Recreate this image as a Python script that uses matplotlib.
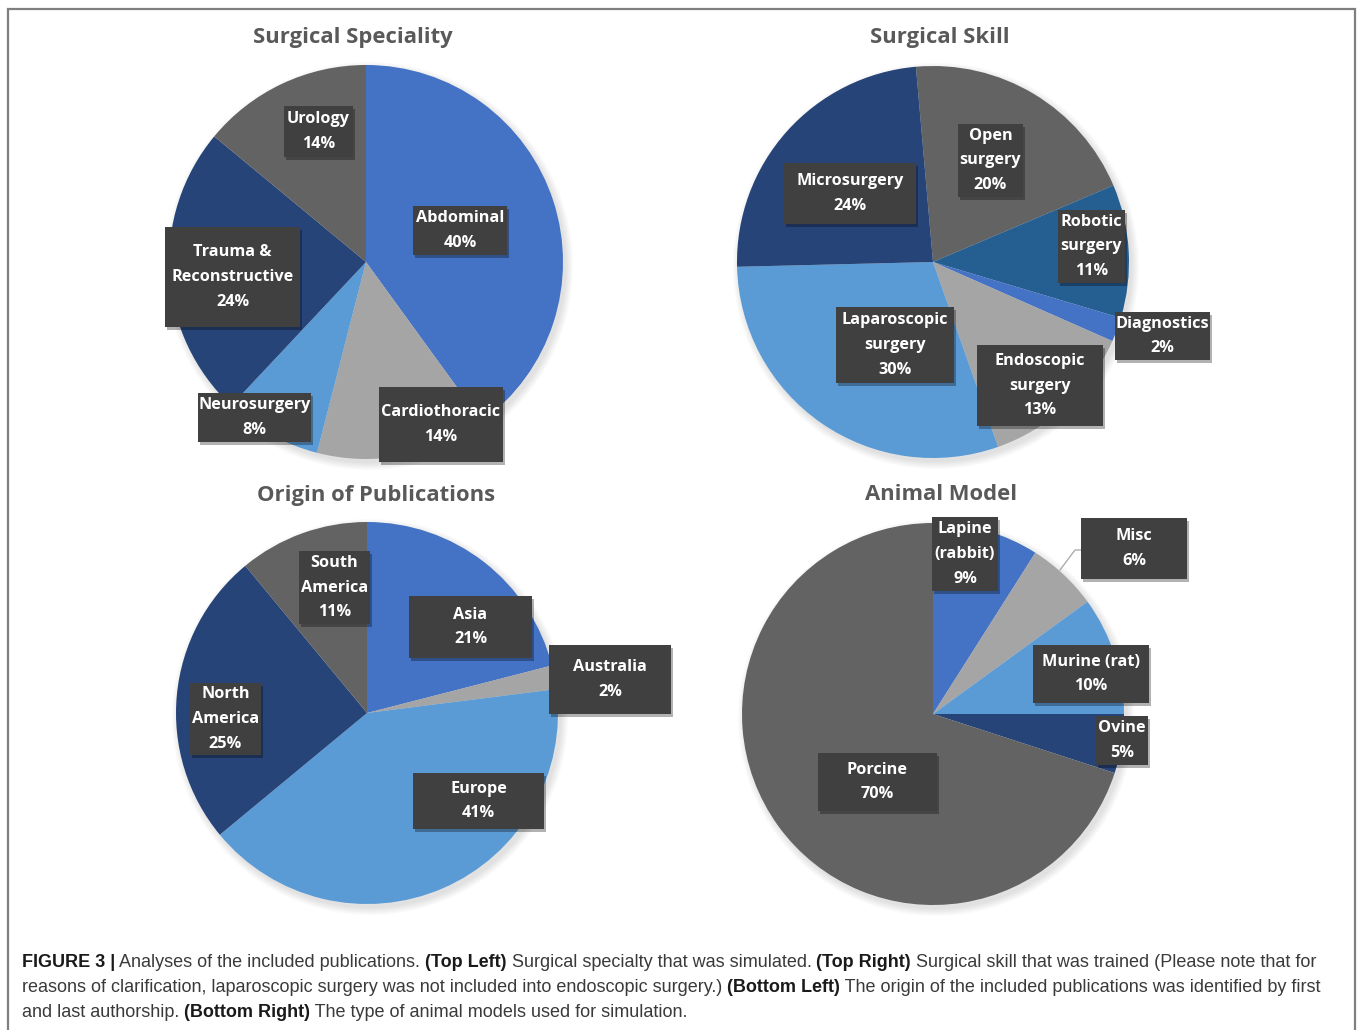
import matplotlib.pyplot as plt
from matplotlib.patches import Rectangle, Circle

# data
speciality_labels = ['Abdominal', 'Cardiothoracic', 'Neurosurgery', 'Trauma &\nReconstructive', 'Urology']
speciality_values = [40, 14, 8, 24, 14]

skill_labels = ['Open\nsurgery', 'Robotic\nsurgery', 'Diagnostics', 'Endoscopic\nsurgery',
                'Laparoscopic\nsurgery', 'Microsurgery']
skill_values = [20, 11, 2, 13, 30, 24]

origin_labels = ['Asia', 'Australia', 'Europe', 'North\nAmerica', 'South\nAmerica']
origin_values = [21, 2, 41, 25, 11]

animal_labels = ['Lapine\n(rabbit)', 'Misc', 'Murine (rat)', 'Ovine', 'Porcine']
animal_values = [9, 6, 10, 5, 70]

# colours
BLUE, GREY, LBLUE, NAVY, DGREY, MBLUE = '#4472C4', '#A5A5A5', '#5B9BD5', '#264478', '#636363', '#255E91'

W, H = 1357, 1030
fig = plt.figure(figsize=(W / 100, H / 100), dpi=100)
ax = fig.add_axes([0, 0, 1, 1])

FONT = 'Open Sans'


def Y(y):
    return H - y


# label boxes in pixel coords (x0, y0, x1, y1), top-down
panels = [
    dict(title='Surgical Speciality', tpos=(353, 38), center=(366, 262), r=197, start=90,
         labels=speciality_labels, values=speciality_values,
         colors=[BLUE, GREY, LBLUE, NAVY, DGREY],
         boxes=[(413, 206, 507, 255), (379, 387, 503, 462), (198, 393, 311, 442),
                (165, 227, 300, 327), (284, 106, 353, 157)]),
    dict(title='Surgical Skill', tpos=(940, 37), center=(933, 262), r=196, start=95,
         labels=skill_labels, values=skill_values,
         colors=[DGREY, MBLUE, BLUE, GREY, LBLUE, NAVY],
         boxes=[(958, 124, 1023, 197), (1058, 210, 1125, 283), (1115, 312, 1210, 360),
                (977, 345, 1103, 426), (836, 307, 954, 383), (784, 163, 916, 224)]),
    dict(title='Origin of Publications', tpos=(376, 495), center=(367, 713), r=191, start=90,
         labels=origin_labels, values=origin_values,
         colors=[BLUE, GREY, LBLUE, NAVY, DGREY],
         boxes=[(409, 596, 532, 658), (549, 645, 671, 714), (413, 773, 544, 829),
                (190, 683, 261, 755), (299, 551, 370, 624)]),
    dict(title='Animal Model', tpos=(941, 495), center=(933, 714), r=191, start=90,
         labels=animal_labels, values=animal_values,
         colors=[BLUE, GREY, LBLUE, NAVY, DGREY],
         boxes=[(932, 517, 998, 591), (1081, 518, 1187, 579), (1033, 645, 1149, 703),
                (1096, 716, 1148, 765), (818, 753, 937, 811)]),
]

for p in panels:
    cx, cy = p['center']
    # soft shadow under the pie
    for i in range(10):
        ax.add_patch(Circle((cx + 3, Y(cy) - 4), p['r'] + i * 0.8, color='black',
                            alpha=0.012, lw=0, zorder=1))
    ax.pie(p['values'], colors=p['colors'], startangle=p['start'], counterclock=False,
           center=(cx, Y(cy)), radius=p['r'], wedgeprops=dict(linewidth=0, zorder=2),
           frame=False)
    ax.text(p['tpos'][0], Y(p['tpos'][1]), p['title'], ha='center', va='center',
            fontsize=15.8, fontweight='bold', color='#595959', family=FONT, zorder=5)
    for lab, val, (x0, y0, x1, y1) in zip(p['labels'], p['values'], p['boxes']):
        ax.add_patch(Rectangle((x0 + 2, Y(y1) - 3), x1 - x0, y1 - y0, facecolor='black',
                               alpha=0.3, lw=0, zorder=6))
        ax.add_patch(Rectangle((x0, Y(y1)), x1 - x0, y1 - y0, facecolor='#404040',
                               lw=0, zorder=7))
        ax.text((x0 + x1) / 2, Y((y0 + y1) / 2), f'{lab}\n{val}%', ha='center', va='center',
                fontsize=11.7, fontweight='bold', color='white', family=FONT,
                linespacing=1.72, zorder=8)

# leader line for Misc
ax.plot([1081, 1075, 1060], [Y(550), Y(550), Y(570)], color='#A6A6A6', lw=0.9, zorder=3)

# frame
ax.add_patch(Rectangle((8, -10), 1347, H - 9 + 10, fill=False, edgecolor='#7f7f7f',
                       lw=1.6, zorder=10))

ax.set_xlim(0, W)
ax.set_ylim(0, H)
ax.axis('off')

# caption
caption = [
    [('FIGURE 3 |', 'bold'), (' Analyses of the included publications. ', 'normal'),
     ('(Top Left)', 'bold'), (' Surgical specialty that was simulated. ', 'normal'),
     ('(Top Right)', 'bold'), (' Surgical skill that was trained (Please note that for', 'normal')],
    [('reasons of clarification, laparoscopic surgery was not included into endoscopic surgery.) ', 'normal'),
     ('(Bottom Left)', 'bold'), (' The origin of the included publications was identified by first', 'normal')],
    [('and last authorship. ', 'normal'), ('(Bottom Right)', 'bold'),
     (' The type of animal models used for simulation.', 'normal')],
]
renderer = fig.canvas.get_renderer()
for line, base in zip(caption, [967, 992, 1017]):
    x = 22
    for s, w in line:
        t = ax.text(x, Y(base), s, ha='left', va='baseline', fontsize=13, fontweight=w,
                    family='Liberation Sans', color='#1a1a1a' if w == 'bold' else '#3a3a3a')
        x += t.get_window_extent(renderer=renderer).width

fig.savefig('out.png', dpi=100)
